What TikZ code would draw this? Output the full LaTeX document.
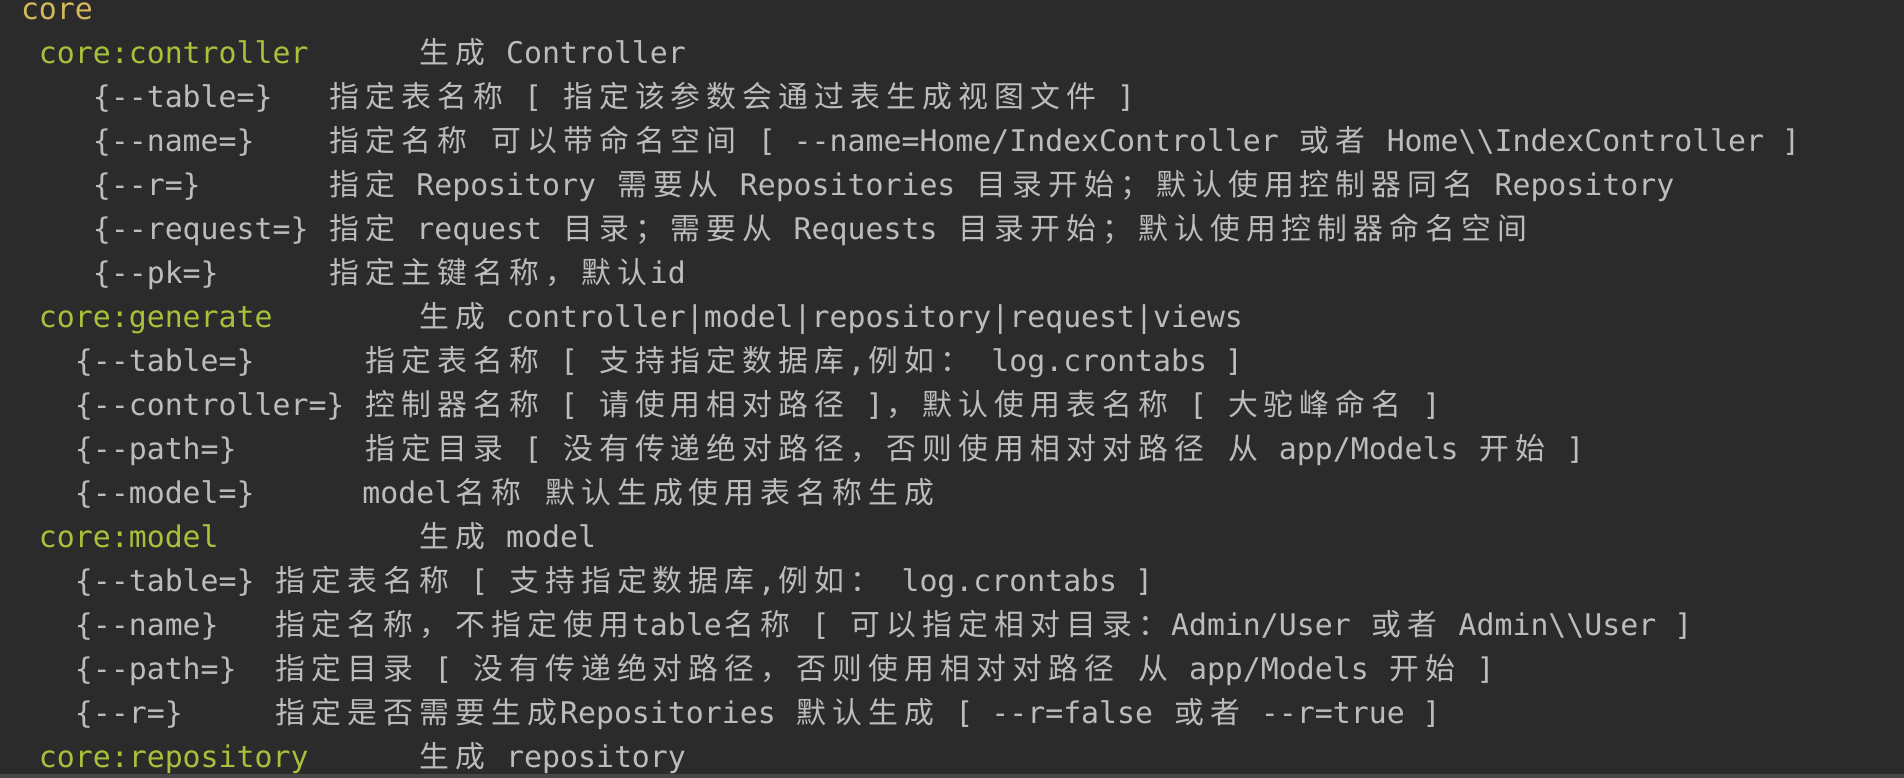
\documentclass[tikz,border=0pt]{standalone}
\usepackage{fontspec}
\setmonofont{DejaVu Sans Mono}
\newfontfamily\cjk{Noto Sans CJK SC}
\definecolor{bgc}{HTML}{2B2B2B}
\definecolor{stripc}{HTML}{474747}
\definecolor{fgc}{HTML}{BCBCBC}
\definecolor{goldc}{HTML}{D3B95A}
\definecolor{greenc}{HTML}{A7C13A}
\newlength\cw
\setlength\cw{17.97pt}
\newcommand\dd{-\kern0pt-}
\newcommand\bs{\textbackslash}
\ExplSyntaxOn
\NewDocumentCommand\C{m}{\tl_map_inline:nn{#1}{\makebox[2\cw]{\cjk ##1}}}
\ExplSyntaxOff
\newcommand\at[2]{({21+#1*17.97},{758.8-#2*43.99})}
\begin{document}
\begin{tikzpicture}[x=1pt,y=1pt,
  every node/.style={inner sep=0pt, outer sep=0pt, anchor=base west,
    font=\ttfamily\fontsize{29.85}{36}\selectfont, text=fgc},
  cmd/.style={text=greenc},
  top/.style={text=goldc}]
\fill[bgc] (0,0) rectangle (1904,778);
\fill[stripc] (0,0) rectangle (1904,4);
\useasboundingbox (0,0) rectangle (1904,778);
% line 0
\node[top] (l0) at \at{0}{0} {core};
% core:controller
\node[cmd] (l1a) at \at{1}{1} {core:controller};
\node (l1b) at \at{22}{1} {\C{生成} Controller};
\node (l2a) at \at{4}{2} {\{\dd table=\}};
\node (l2b) at \at{17}{2} {\C{指定表名称} [ \C{指定该参数会通过表生成视图文件} ]};
\node (l3a) at \at{4}{3} {\{\dd name=\}};
\node (l3b) at \at{17}{3} {\C{指定名称} \C{可以带命名空间} [ \dd name=Home/IndexController \C{或者} Home\bs\bs IndexController ]};
\node (l4a) at \at{4}{4} {\{\dd r=\}};
\node (l4b) at \at{17}{4} {\C{指定} Repository \C{需要从} Repositories \C{目录开始；默认使用控制器同名} Repository};
\node (l5a) at \at{4}{5} {\{\dd request=\}};
\node (l5b) at \at{17}{5} {\C{指定} request \C{目录；需要从} Requests \C{目录开始；默认使用控制器命名空间}};
\node (l6a) at \at{4}{6} {\{\dd pk=\}};
\node (l6b) at \at{17}{6} {\C{指定主键名称，默认}id};
% core:generate
\node[cmd] (l7a) at \at{1}{7} {core:generate};
\node (l7b) at \at{22}{7} {\C{生成} controller|model|repository|request|views};
\node (l8a) at \at{3}{8} {\{\dd table=\}};
\node (l8b) at \at{19}{8} {\C{指定表名称} [ \C{支持指定数据库},\C{例如：} log.crontabs ]};
\node (l9a) at \at{3}{9} {\{\dd controller=\}};
\node (l9b) at \at{19}{9} {\C{控制器名称} [ \C{请使用相对路径} ]\C{，默认使用表名称} [ \C{大驼峰命名} ]};
\node (l10a) at \at{3}{10} {\{\dd path=\}};
\node (l10b) at \at{19}{10} {\C{指定目录} [ \C{没有传递绝对路径，否则使用相对对路径} \C{从} app/Models \C{开始} ]};
\node (l11a) at \at{3}{11} {\{\dd model=\}};
\node (l11b) at \at{19}{11} {model\C{名称} \C{默认生成使用表名称生成}};
% core:model
\node[cmd] (l12a) at \at{1}{12} {core:model};
\node (l12b) at \at{22}{12} {\C{生成} model};
\node (l13a) at \at{3}{13} {\{\dd table=\}};
\node (l13b) at \at{14}{13} {\C{指定表名称} [ \C{支持指定数据库},\C{例如：} log.crontabs ]};
\node (l14a) at \at{3}{14} {\{\dd name\}};
\node (l14b) at \at{14}{14} {\C{指定名称，不指定使用}table\C{名称} [ \C{可以指定相对目录：}Admin/User \C{或者} Admin\bs\bs User ]};
\node (l15a) at \at{3}{15} {\{\dd path=\}};
\node (l15b) at \at{14}{15} {\C{指定目录} [ \C{没有传递绝对路径，否则使用相对对路径} \C{从} app/Models \C{开始} ]};
\node (l16a) at \at{3}{16} {\{\dd r=\}};
\node (l16b) at \at{14}{16} {\C{指定是否需要生成}Repositories \C{默认生成} [ \dd r=false \C{或者} \dd r=true ]};
% core:repository
\node[cmd] (l17a) at \at{1}{17} {core:repository};
\node (l17b) at \at{22}{17} {\C{生成} repository};
\end{tikzpicture}
\end{document}
